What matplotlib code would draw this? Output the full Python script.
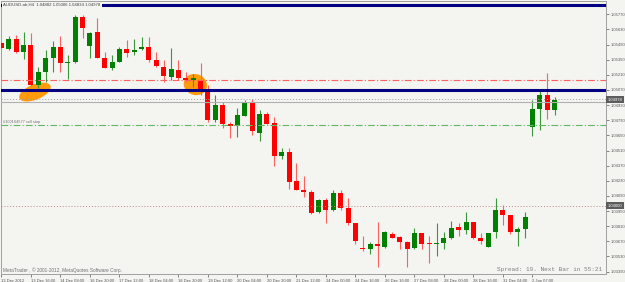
import numpy as np
import matplotlib.pyplot as plt
from matplotlib.patches import Ellipse
from matplotlib.transforms import Affine2D, ScaledTranslation

# AUDUSD H4, 13 Dec 2012 -> 2 Jan 2013
opens = [1.05500, 1.05449, 1.05541, 1.05421, 1.05486, 1.05116, 1.05236, 1.05366,
         1.05467, 1.05315, 1.05329, 1.05745, 1.05477, 1.05606, 1.05366, 1.05273,
         1.05329, 1.05449, 1.05421, 1.05449, 1.05467, 1.05347, 1.05282, 1.05190,
         1.05255, 1.05181, 1.05162, 1.05162, 1.05070, 1.04792, 1.04931, 1.04755,
         1.04737, 1.04829, 1.04959, 1.04672, 1.04848, 1.04764, 1.04459, 1.04496,
         1.04228, 1.04144, 1.04126, 1.03941, 1.04052, 1.03960, 1.04117, 1.03978,
         1.03840, 1.03608, 1.03599, 1.03645, 1.03617, 1.03737, 1.03710, 1.03664,
         1.03608, 1.03747, 1.03654, 1.03650, 1.03654, 1.03700, 1.03802, 1.03775,
         1.03849, 1.03700, 1.03617, 1.03756, 1.03960, 1.03913, 1.03756, 1.03784,
         1.04727, 1.04894, 1.05023, 1.04882]
highs = [1.05514, 1.05569, 1.05578, 1.05606, 1.05597, 1.05282, 1.05440, 1.05523,
         1.05569, 1.05393, 1.05763, 1.05763, 1.05606, 1.05736, 1.05421, 1.05393,
         1.05467, 1.05532, 1.05541, 1.05560, 1.05560, 1.05421, 1.05347, 1.05458,
         1.05347, 1.05236, 1.05218, 1.05319, 1.05116, 1.05023, 1.04959, 1.04774,
         1.04903, 1.04977, 1.04987, 1.04885, 1.04866, 1.04820, 1.04533, 1.04533,
         1.04394, 1.04274, 1.04144, 1.04061, 1.04070, 1.04144, 1.04144, 1.04070,
         1.03840, 1.03719, 1.03664, 1.03849, 1.03765, 1.03756, 1.03719, 1.03673,
         1.03793, 1.03750, 1.03719, 1.03840, 1.03756, 1.03858, 1.03840, 1.03941,
         1.03850, 1.03747, 1.03747, 1.04070, 1.04006, 1.03915, 1.03802, 1.03941,
         1.04977, 1.05070, 1.05227, 1.05006]
lows = [1.05449, 1.05440, 1.05412, 1.05356, 1.05107, 1.05088, 1.05144, 1.05236,
        1.05236, 1.05172, 1.05319, 1.05550, 1.05366, 1.05366, 1.05273, 1.05255,
        1.05329, 1.05375, 1.05393, 1.05440, 1.05329, 1.05282, 1.05144, 1.05162,
        1.05162, 1.05144, 1.05097, 1.05023, 1.04774, 1.04774, 1.04718, 1.04626,
        1.04635, 1.04829, 1.04654, 1.04598, 1.04755, 1.04367, 1.04431, 1.04154,
        1.04144, 1.04080, 1.03923, 1.03932, 1.03840, 1.03950, 1.03960, 1.03821,
        1.03645, 1.03580, 1.03553, 1.03432, 1.03608, 1.03700, 1.03599, 1.03432,
        1.03600, 1.03599, 1.03469, 1.03534, 1.03599, 1.03691, 1.03719, 1.03737,
        1.03691, 1.03645, 1.03617, 1.03700, 1.03821, 1.03737, 1.03627, 1.03700,
        1.04644, 1.04700, 1.04802, 1.04834]
closes = [1.05458, 1.05541, 1.05421, 1.05486, 1.05116, 1.05236, 1.05366, 1.05467,
          1.05319, 1.05329, 1.05745, 1.05643, 1.05597, 1.05366, 1.05273, 1.05329,
          1.05449, 1.05412, 1.05440, 1.05467, 1.05347, 1.05292, 1.05199, 1.05264,
          1.05181, 1.05162, 1.05181, 1.05051, 1.04792, 1.04931, 1.04755, 1.04737,
          1.04839, 1.04959, 1.04690, 1.04848, 1.04755, 1.04459, 1.04496, 1.04219,
          1.04144, 1.04126, 1.03932, 1.04052, 1.03960, 1.04117, 1.03978, 1.03840,
          1.03673, 1.03599, 1.03645, 1.03627, 1.03756, 1.03700, 1.03664, 1.03599,
          1.03747, 1.03645, 1.03650, 1.03655, 1.03700, 1.03793, 1.03775, 1.03849,
          1.03700, 1.03673, 1.03747, 1.03960, 1.03913, 1.03756, 1.03784, 1.03895,
          1.04894, 1.05023, 1.04882, 1.04978]

time_labels = ["13 Dec 2012", "13 Dec 16:00", "14 Dec 08:00", "16 Dec 20:00",
               "17 Dec 12:00", "18 Dec 04:00", "18 Dec 20:00", "19 Dec 12:00",
               "20 Dec 04:00", "20 Dec 20:00", "21 Dec 12:00", "24 Dec 00:00",
               "24 Dec 16:00", "26 Dec 16:00", "27 Dec 08:00", "28 Dec 00:00",
               "28 Dec 16:00", "31 Dec 04:00", "2 Jan 07:00"]
price_ticks = [1.05770, 1.05630, 1.05490, 1.05350, 1.05210, 1.05070, 1.04930,
               1.04790, 1.04650, 1.04510, 1.04370, 1.04230, 1.04090, 1.03950,
               1.03810, 1.03670, 1.03530, 1.03390]

level_top = 1.05856
level_red = 1.05159
level_navy = 1.05074
level_ask = 1.04991
level_bid = 1.04978
level_sellstop = 1.04750
level_target = 1.04000

BG = "#f4f4f1"
fig = plt.figure(figsize=(6.25, 2.82), dpi=100, facecolor=BG)
ax = fig.add_axes([1/625, 1-274/282, 605/625, 273/282], facecolor=BG)

o = np.array(opens); h = np.array(highs); l = np.array(lows); c = np.array(closes)
idx = np.arange(len(o))
up = c >= o
px = 0.0000925
body_lo = np.minimum(o, c)
body_h = np.maximum(np.abs(c - o), px)

ax.vlines(idx[up], l[up], h[up], color="#3c963c", lw=0.8, zorder=3)
ax.vlines(idx[~up], l[~up], h[~up], color="#ff6060", lw=0.8, zorder=3)
ax.bar(idx[up], body_h[up], 0.68, bottom=body_lo[up], color="#008000", lw=0, zorder=4)
ax.bar(idx[~up], body_h[~up], 0.68, bottom=body_lo[~up], color="#ff0000", lw=0, zorder=4)

# orange marks
k = fig.dpi / 72.0
for (xc, yc, w, hh, ang) in [(4.55, 1.05051, 24, 11, 22), (26.3, 1.05120, 17, 15, -20)]:
    tr = Affine2D().scale(k) + ScaledTranslation(xc, yc, ax.transData)
    ax.add_patch(Ellipse((0, 0), w, hh, angle=ang, transform=tr, fc="#ff9a0a",
                         ec="none", zorder=2))

# horizontal levels
ax.axhline(level_top, color="#000080", lw=2.2, zorder=5)
ax.axhline(level_red, color="#ff6060", lw=0.8, ls=(0, (6, 2, 1, 2)), zorder=5)
ax.axhline(level_navy, color="#000080", lw=2.2, zorder=5)
ax.axhline(level_ask, color="#a0a0a0", lw=0.7, ls=(0, (1, 2)), zorder=5)
ax.axhline(level_bid - 0.0002, color="#b0b0b0", lw=0.8, zorder=5)
ax.axhline(level_sellstop, color="#60b860", lw=0.8, ls=(0, (6, 2, 1, 2)), zorder=5)
ax.axhline(level_target, color="#c08888", lw=0.7, ls=(0, (1, 2)), zorder=5)

ax.set_xlim(-0.054, 81.98)
ax.set_ylim(1.03368, 1.05893)

ax.yaxis.tick_right()
ax.set_yticks(price_ticks)
ax.set_yticklabels(["%.5f" % p for p in price_ticks])
ax.set_xticks(idx[::4][:len(time_labels)])
ax.set_xticklabels(time_labels, ha="left")
ax.tick_params(axis="both", labelsize=3.0, colors="#555555", length=2, width=0.5, pad=1.5)
for t in ax.get_xticklabels() + ax.get_yticklabels():
    t.set_fontfamily("Liberation Sans")
for s in ax.spines.values():
    s.set_color("#a0a0a0")
    s.set_linewidth(0.7)

tf = ax.get_yaxis_transform()
for lvl, txt in [(level_bid, "1.04978"), (level_target, "1.04000")]:
    ax.text(1.003, lvl, txt, transform=tf, ha="left", va="center", fontsize=3.0,
            family="Liberation Sans", color="white", clip_on=False, zorder=6,
            bbox=dict(boxstyle="square,pad=0.35", fc="#5c5c5c", ec="none"))

fig.text(3/625, 1-5/282, "AUDUSD-ab,H4  1.04882 1.05006 1.04834 1.04978", fontsize=3.1,
         family="Liberation Sans", color="#404040", va="center", ha="left", zorder=10,
         bbox=dict(boxstyle="square,pad=0.3", fc=BG, ec="none"))
fig.text(3/625, 1-122/282, "#100164577 sell stop", fontsize=2.8, family="Liberation Sans",
         color="#707070", va="center", ha="left")
fig.text(3/625, 1-270/282, "MetaTrader , \u00a9 2001-2012, MetaQuotes Software Corp.",
         fontsize=3.4, family="Liberation Sans", color="#707070", va="center", ha="left")
fig.text(602/625, 1-270/282, "Spread: 19. Next Bar in 55:21", fontsize=4.4,
         family="Liberation Mono", color="#808080", va="center", ha="right")

fig.savefig("out.png", dpi=100, facecolor=BG)
